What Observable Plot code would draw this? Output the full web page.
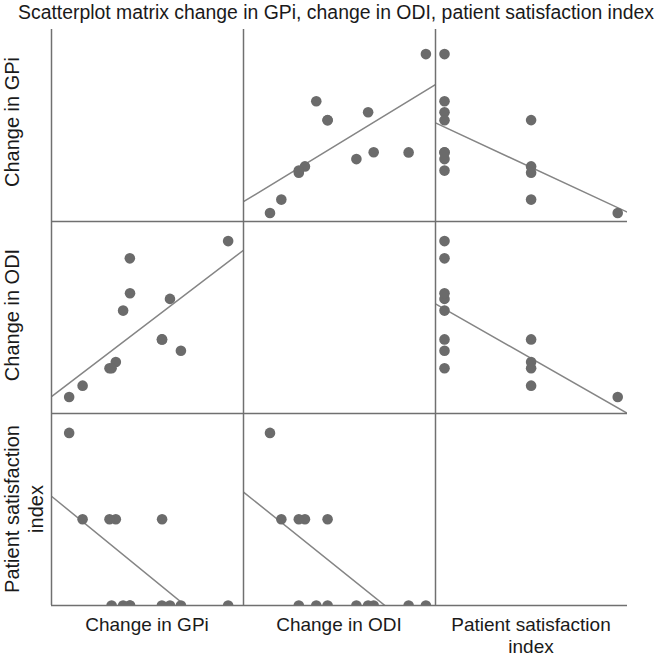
<!DOCTYPE html>
<html><head><meta charset="utf-8">
<script src="https://cdn.jsdelivr.net/npm/d3@7"></script>
<script src="https://cdn.jsdelivr.net/npm/@observablehq/plot@0.6"></script>
<style>
body{margin:0;background:#fff;}
#chart{position:relative;width:672px;height:656px;font-family:"Liberation Sans",Arial,Helvetica,sans-serif;color:#1a1a1a;overflow:hidden;}
.title{position:absolute;left:0;top:1px;width:672px;text-align:center;font-size:19.4px;line-height:22px;white-space:nowrap;}
.panel{position:absolute;}
.collab{position:absolute;width:192px;text-align:center;font-size:19px;line-height:22px;}
.rowlab{position:absolute;width:220px;text-align:center;font-size:20px;line-height:24px;transform:rotate(-90deg);white-space:nowrap;}
</style></head><body><div id="chart"></div>
<script>
// Variables of the matrix (row/column order)
const variableLabels = ["Change in GPi", "Change in ODI", "Patient satisfaction index"];
// One value per patient (13 patients) (relative units)
const gpiChange         = [87.2, 62.6, 56.9, 52.8, 52.7, 36.1, 36.0, 32.5, 28.7, 25.4, 26.5, 11.4, 4.4];
const odiChange         = [89.8, 32.7, 59.7, 38.6, 38.6, 62.6, 80.8, 53.6, 26.8, 23.6, 23.6, 14.5, 8.6];
const satisfactionIndex = [1, 1, 1, 2, 1, 1, 1, 1, 2, 2, 1, 2, 3];
// Scale domains of each variable when on the vertical and on the horizontal axis
const yDomains = [[0, 100], [0, 100], [1, 3.225]];
const xDomains = [[-4.8, 95.2], [-5.2, 94.8], [0.896, 3.113]];

const series = [gpiChange, odiChange, satisfactionIndex];
const keys = ["gpi", "odi", "psi"];
const patients = gpiChange.map((_, i) => ({gpi: gpiChange[i], odi: odiChange[i], psi: satisfactionIndex[i]}));

const S = 192, X0 = 51, Y0 = 29;
const chart = document.getElementById("chart");

const title = document.createElement("div");
title.className = "title";
title.textContent = "Scatterplot matrix change in GPi, change in ODI, patient satisfaction index";
chart.appendChild(title);

for (let r = 0; r < 3; r++) {
  for (let c = 0; c < 3; c++) {
    const marks = [];
    if (r !== c) {
      const xs = series[c], ys = series[r];
      const mx = d3.mean(xs), my = d3.mean(ys);
      const b = d3.sum(xs, (x, i) => (x - mx) * (ys[i] - my)) / d3.sum(xs, x => (x - mx) ** 2);
      const a = my - b * mx;
      const fit = xDomains[c].map(x => ({x, y: a + b * x}));
      marks.push(Plot.line(fit, {x: "x", y: "y", stroke: "#858585", strokeWidth: 1.5, clip: true}));
      marks.push(Plot.dot(patients, {x: keys[c], y: keys[r], r: 5.3, fill: "#6b6b6b", stroke: "none", clip: true}));
    }
    marks.push(Plot.ruleX([xDomains[c][0]], {stroke: "#707070", strokeWidth: 1.5}));
    marks.push(Plot.ruleY([yDomains[r][0]], {stroke: "#707070", strokeWidth: 1.5}));
    const svg = Plot.plot({
      width: S, height: S, margin: 0,
      x: {domain: xDomains[c], axis: null},
      y: {domain: yDomains[r], axis: null},
      style: {overflow: "visible", background: "transparent"},
      marks
    });
    const holder = document.createElement("div");
    holder.className = "panel";
    holder.style.left = (X0 + c * S) + "px";
    holder.style.top = (Y0 + r * S) + "px";
    holder.appendChild(svg);
    chart.appendChild(holder);
  }
}

// Column labels (bottom)
const colLabelLines = [["Change in GPi"], ["Change in ODI"], ["Patient satisfaction", "index"]];
colLabelLines.forEach((lines, c) => {
  const d = document.createElement("div");
  d.className = "collab";
  d.style.left = (X0 + c * S) + "px";
  d.style.top = "614px";
  d.innerHTML = lines.join("<br>");
  chart.appendChild(d);
});

// Row labels (left, rotated)
const rowLabelLines = [["Change in GPi"], ["Change in ODI"], ["Patient satisfaction", "index"]];
const rowCenters = [122, 315, 509];
rowLabelLines.forEach((lines, r) => {
  const d = document.createElement("div");
  d.className = "rowlab";
  const h = 24 * lines.length;
  const cx = lines.length === 1 ? 12 : 24;
  d.style.left = (cx - 110) + "px";
  d.style.top = (rowCenters[r] - h / 2) + "px";
  d.innerHTML = lines.join("<br>");
  chart.appendChild(d);
});
</script></body></html>
